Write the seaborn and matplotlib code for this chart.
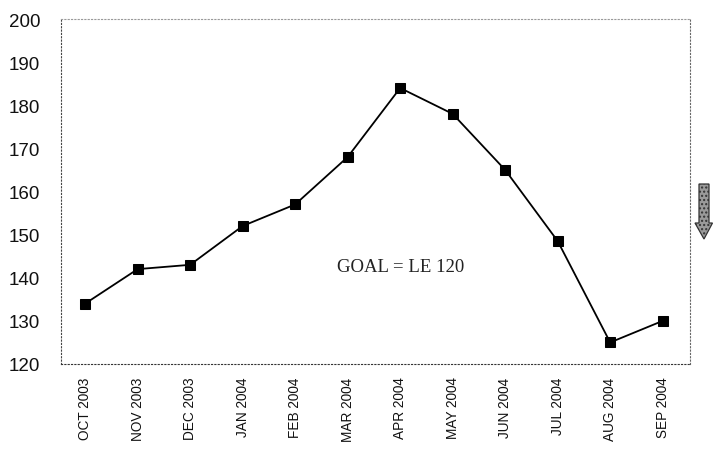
import numpy as np
import pandas as pd
import matplotlib
matplotlib.use("Agg")
import matplotlib.pyplot as plt
import matplotlib.patches as mpatches
import seaborn as sns

months = ["OCT 2003", "NOV 2003", "DEC 2003", "JAN 2004", "FEB 2004", "MAR 2004",
          "APR 2004", "MAY 2004", "JUN 2004", "JUL 2004", "AUG 2004", "SEP 2004"]
values = [134, 142, 143, 152, 157, 168, 184, 178, 165, 148.5, 125, 130]
y_ticks = [120, 130, 140, 150, 160, 170, 180, 190, 200]
goal_text = "GOAL = LE 120"

sns.set_theme(style="white")
plt.rcParams["font.family"] = ["Liberation Sans", "DejaVu Sans"]

df = pd.DataFrame({"pos": np.arange(len(months)), "value": values})

fig = plt.figure(figsize=(7.13, 4.52), dpi=100)
ax = fig.add_axes([61 / 713, 1 - 365 / 452, (690 - 61) / 713, (365 - 20) / 452])

sns.lineplot(data=df, x="pos", y="value", ax=ax, color="black", linewidth=1.3,
             marker="s", markersize=6.5, markeredgecolor="black", markerfacecolor="black")

ax.set_xlim(-0.46, 11.52)
ax.set_ylim(120, 200)
ax.set_xticks(df["pos"])
ax.set_xticklabels(months, rotation=90, fontsize=9.8, color="#111111")
ax.set_yticks(y_ticks)
ax.set_yticklabels([str(t) for t in y_ticks], fontsize=13.5, color="#111111")
ax.tick_params(axis="both", length=0)
ax.tick_params(axis="y", pad=15)
ax.tick_params(axis="x", pad=9)
ax.set_xlabel("")
ax.set_ylabel("")

for side, col in [("left", "#444444"), ("bottom", "#333333"),
                  ("top", "#999999"), ("right", "#666666")]:
    sp = ax.spines[side]
    sp.set_visible(True)
    sp.set_linestyle((0, (1, 2)))
    sp.set_linewidth(0.8)
    sp.set_color(col)

ax.text(6.0, 142.7, goal_text, ha="center", va="center", fontsize=13.5,
        family=["Liberation Serif", "DejaVu Serif"], color="#222222")

# downward trend arrow at the right margin
W, H = 713, 452
arrow = mpatches.Polygon(
    [(699 / W, 1 - 185 / H), (709 / W, 1 - 185 / H), (709 / W, 1 - 224 / H),
     (712.5 / W, 1 - 224 / H), (704 / W, 1 - 240 / H), (695 / W, 1 - 224 / H),
     (699 / W, 1 - 224 / H)],
    closed=True, transform=fig.transFigure, facecolor="#9a9a9a",
    edgecolor="#333333", linewidth=0.9, hatch="....", clip_on=False)
fig.patches.append(arrow)

fig.savefig("out.png", dpi=100)
